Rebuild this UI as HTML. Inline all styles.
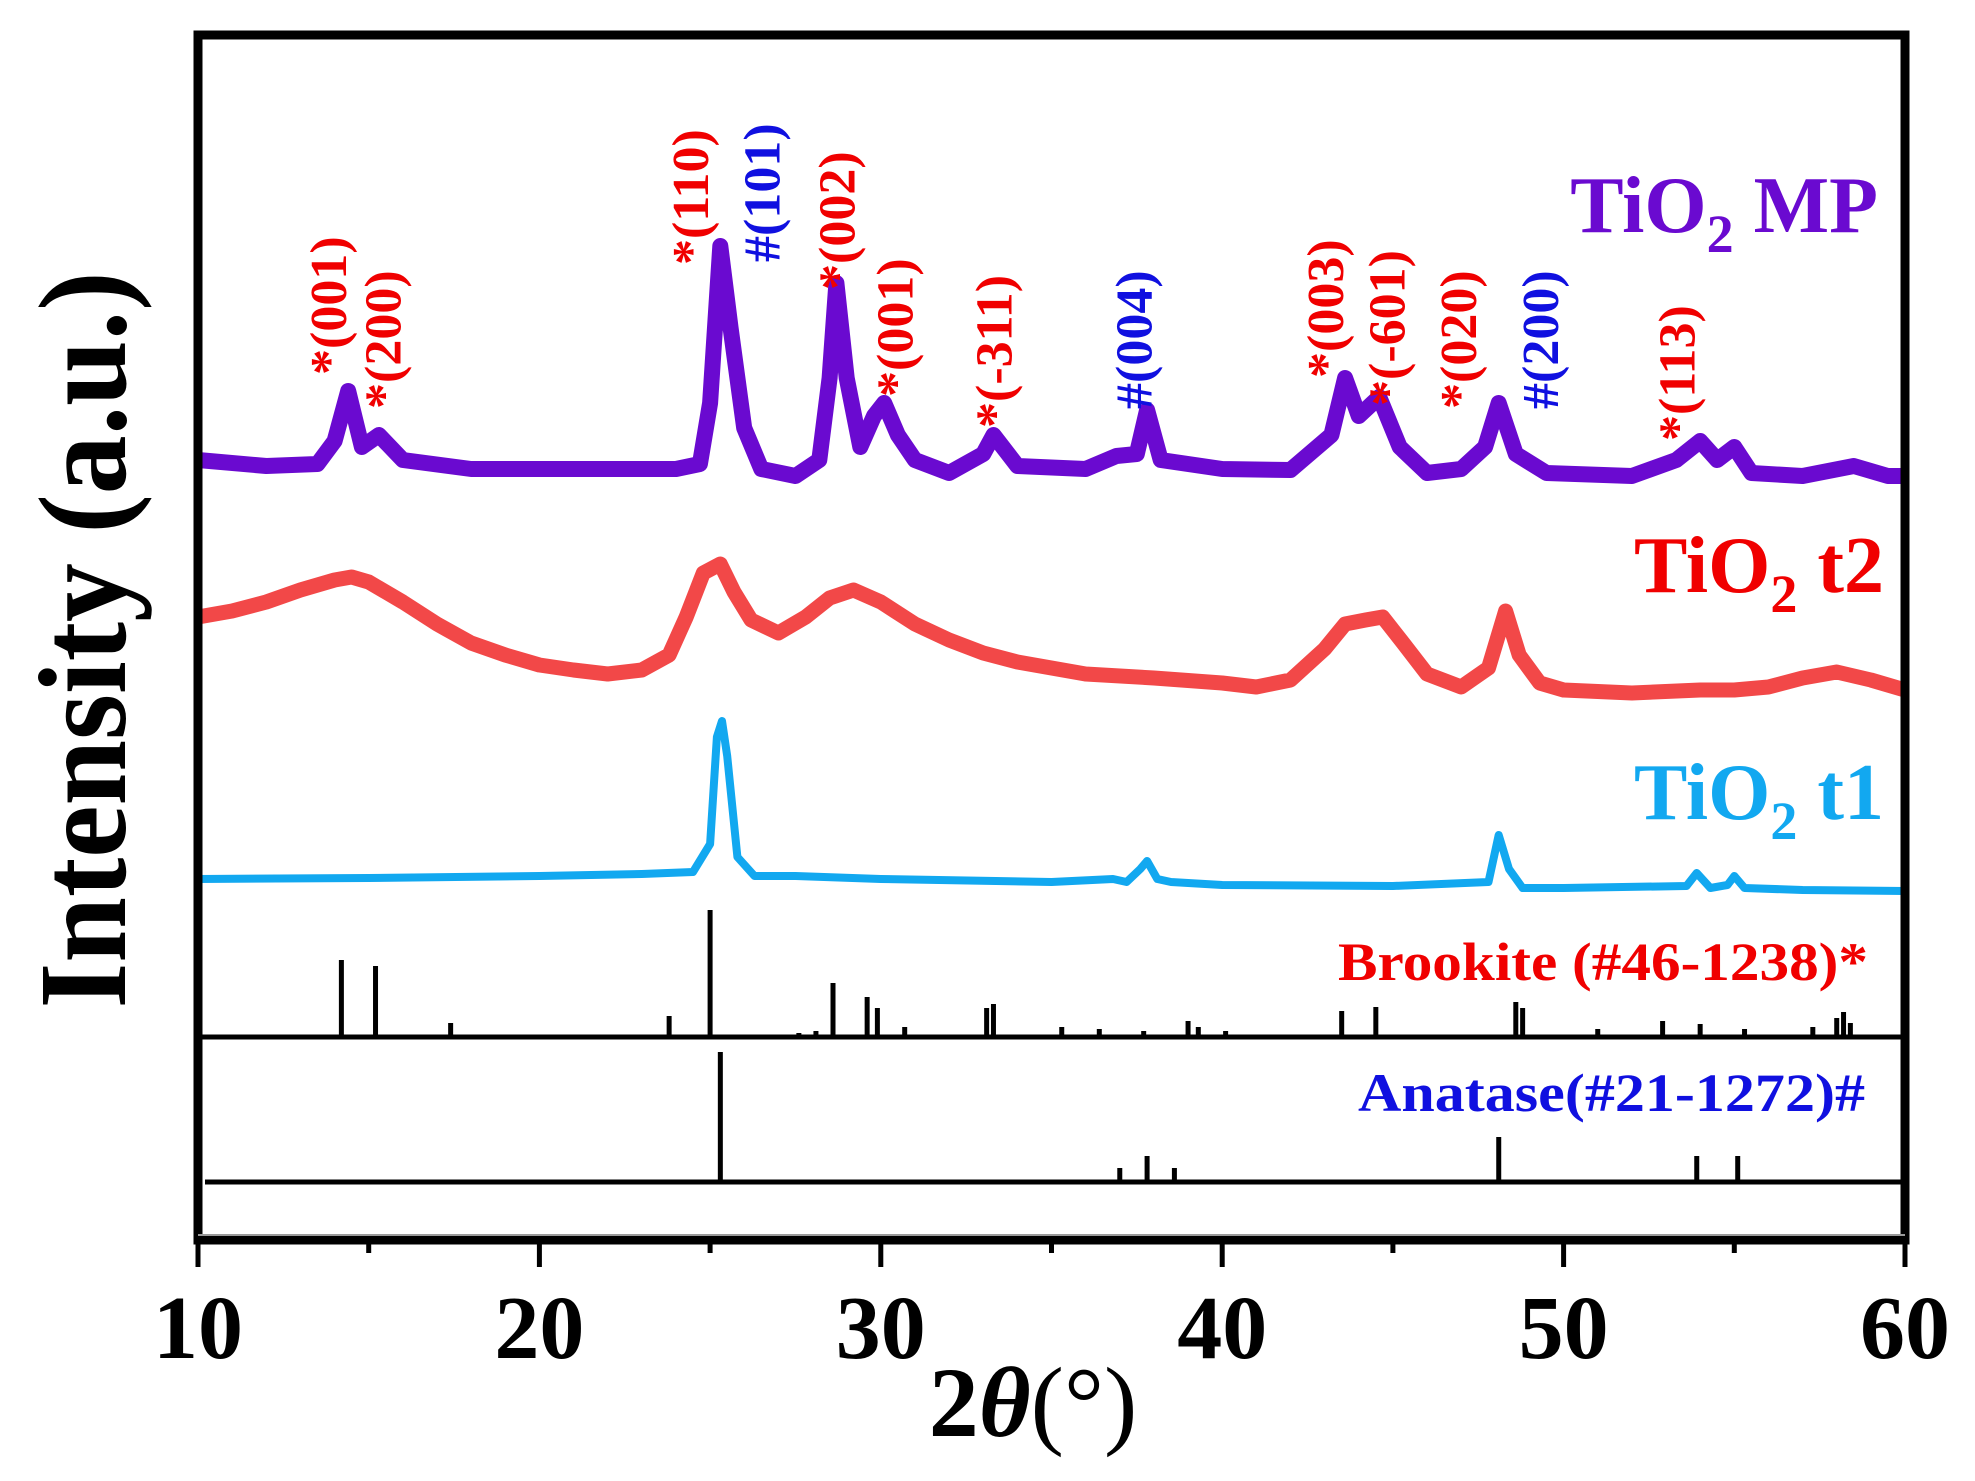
<!DOCTYPE html>
<html><head><meta charset="utf-8"><style>
html,body{margin:0;padding:0;background:#fff}
svg{display:block}
text{font-family:"Liberation Serif",serif;font-weight:bold}
</style></head><body>
<svg id="chart" width="1975" height="1481" viewBox="0 0 1975 1481" xmlns="http://www.w3.org/2000/svg">
<g id="series"></g>
<g id="sticks"></g>
<g id="labels"></g>
<rect x="198" y="35" width="1707" height="1205" fill="none" stroke="#000" stroke-width="9"/>
<line x1="198" y1="1037" x2="1905" y2="1037" stroke="#000" stroke-width="5"/>
<line x1="205" y1="1182" x2="1905" y2="1182" stroke="#000" stroke-width="5"/>
<line x1="198" y1="1235" x2="1905" y2="1235" stroke="#999" stroke-width="2"/>
<g id="xaxis"></g>
<text transform="translate(125,640) rotate(-90)" text-anchor="middle" font-size="125" textLength="737" lengthAdjust="spacingAndGlyphs">Intensity (a.u.)</text>
<text x="1033" y="1436" text-anchor="middle" font-size="100">2<tspan font-style="italic">θ</tspan><tspan font-weight="normal">(°)</tspan></text>
<text x="1878" y="232" text-anchor="end" font-size="80" fill="#6a0ad0">TiO<tspan font-size="54" dy="20">2</tspan><tspan dy="-20"> MP</tspan></text>
<text x="1884" y="592" text-anchor="end" font-size="80" fill="#f00000">TiO<tspan font-size="54" dy="20">2</tspan><tspan dy="-20"> t2</tspan></text>
<text x="1884" y="819" text-anchor="end" font-size="80" fill="#12a8f0">TiO<tspan font-size="54" dy="20">2</tspan><tspan dy="-20"> t1</tspan></text>
<text x="1338" y="980" font-size="54" fill="#f00000" textLength="530" lengthAdjust="spacingAndGlyphs">Brookite (#46-1238)*</text>
<text x="1358" y="1111" font-size="54" fill="#1010e0" textLength="507" lengthAdjust="spacingAndGlyphs">Anatase(#21-1272)#</text>
</svg>
<script>
// x positions (2θ) and intensities (a.u.)
const mpX = [10,12,13.5,14.0,14.4,14.8,15.3,16,18,20,22,24,24.7,25.0,25.3,25.6,26.0,26.5,27.5,28.2,28.5,28.7,29.0,29.4,29.8,30.1,30.5,31,32,33,33.3,34,36,36.9,37.5,37.8,38.2,40,42,43.2,43.6,44.0,44.6,45.2,46,47,47.7,48.1,48.6,49.5,52,53.3,54,54.5,55,55.5,57,58.5,59.5,60];
const mpY = [780,774,776,799,849,793,805,780,771,771,771,771,776,837,994,912,812,771,764,780,862,957,862,793,824,837,805,780,767,786,805,774,771,784,786,830,780,771,770,805,862,824,843,793,767,771,793,837,786,767,764,780,799,780,793,767,764,774,764,764];
const t2X = [10,11,12,13,14,14.5,15,16,17,18,19,20,21,22,23,23.8,24.3,24.8,25.3,25.7,26.2,27,27.8,28.5,29.2,30,31,32,33,34,35,36,38,40,41,42,43,43.6,44.2,44.7,45.3,46,47,47.8,48.3,48.7,49.3,50,52,54,55,56,57,58,59,60];
const t2Y = [623,629,638,650,660,663,658,638,616,597,585,575,570,566,570,585,623,667,676,648,620,607,623,642,650,638,616,600,587,578,572,566,562,557,553,560,591,616,620,623,597,566,553,572,629,585,557,550,547,550,550,553,562,568,560,550];
const t1X = [10,15,20,23,24.5,25.0,25.2,25.35,25.5,25.8,26.3,27.5,30,35,36.8,37.2,37.6,37.8,38.1,38.5,40,45,47.8,48.1,48.4,48.8,50,53.6,53.9,54.3,54.8,55.0,55.3,57,60];
const t1Y = [361,362,364,366,368,396,503,519,484,383,364,364,361,358,361,358,371,379,361,358,355,354,358,405,371,352,352,354,367,352,355,364,352,350,349];
const brookiteX = [14.2,15.2,17.4,23.8,25.0,27.6,28.1,28.6,29.6,29.9,30.7,33.1,33.3,35.3,36.4,37.7,39.0,39.3,40.1,43.5,44.5,48.6,48.8,51,52.9,54,55.3,57.3,58.0,58.2,58.4];
const brookiteH = [77,71,14,21,127,4,6,54,40,29,10,29,33,10,8,6,16,10,6,26,30,35,29,8,16,13,8,10,19,25,14];
const anataseX = [25.3,37.0,37.8,38.6,48.1,53.9,55.1];
const anataseH = [130,14,26,14,45,26,26];
const xTicks = [10,20,30,40,50,60];
const xMinor = [15,25,35,45,55];
const peakLabels = ["*(001)","*(200)","*(110)","#(101)","*(002)","*(001)","*(-311)","#(004)","*(003)","*(-601)","*(020)","#(200)","*(113)"];
const peakLabelX = [13.85,15.45,24.45,26.55,28.75,30.45,33.35,37.45,43.05,44.85,46.95,49.35,53.35];
const peakLabelI = [865,831,975,978,950,843,812,831,862,834,831,831,799];

const NS = "http://www.w3.org/2000/svg";
const xS = v => 198 + (v - 10) * 34.14;
const yS = v => 1240 - v;
function mk(tag, attrs, parent) {
  const e = document.createElementNS(NS, tag);
  for (const k in attrs) e.setAttribute(k, attrs[k]);
  parent.appendChild(e);
  return e;
}
const gS = document.getElementById('series');
function drawLine(xs, ys, color, w, name) {
  const d = xs.map((x, i) => (i ? 'L' : 'M') + xS(x).toFixed(1) + ' ' + yS(ys[i]).toFixed(1)).join(' ');
  const p = mk('path', {d: d, fill: 'none', stroke: color, 'stroke-width': w, 'stroke-linejoin': 'round'}, gS);
  
  
}
drawLine(mpX, mpY, '#6a0ad0', 16, 'series-tio2-mp');
drawLine(t2X, t2Y, '#f24848', 15, 'series-tio2-t2');
drawLine(t1X, t1Y, '#12a8f0', 8, 'series-tio2-t1');

const gK = document.getElementById('sticks');
brookiteX.forEach((x, i) => {
  const l = mk('line', {x1: xS(x), x2: xS(x), y1: 1037, y2: 1037 - brookiteH[i], stroke: '#000', 'stroke-width': 5}, gK);
  
  
});
anataseX.forEach((x, i) => {
  const l = mk('line', {x1: xS(x), x2: xS(x), y1: 1182, y2: 1182 - anataseH[i], stroke: '#000', 'stroke-width': 5}, gK);
  
  
});

const gL = document.getElementById('labels');
peakLabels.forEach((t, i) => {
  const x = xS(peakLabelX[i]), y = yS(peakLabelI[i]);
  const tx = mk('text', {transform: 'translate(' + x + ',' + y + ') rotate(-90)', 'dominant-baseline': 'central', 'font-size': 52, fill: t[0] === '#' ? '#1010e0' : '#f00000'}, gL);
  tx.textContent = t;
  
  
});

const gX = document.getElementById('xaxis');
xTicks.forEach(v => {
  const l = mk('line', {x1: xS(v), x2: xS(v), y1: 1240, y2: 1267, stroke: '#000', 'stroke-width': 5}, gX);
  
  
  const t = mk('text', {x: xS(v), y: 1358, 'text-anchor': 'middle', 'font-size': 90}, gX);
  t.textContent = v;
  
  
});
xMinor.forEach(v => {
  const l = mk('line', {x1: xS(v), x2: xS(v), y1: 1240, y2: 1253, stroke: '#000', 'stroke-width': 5}, gX);
  
  
});
</script>
</body></html>
